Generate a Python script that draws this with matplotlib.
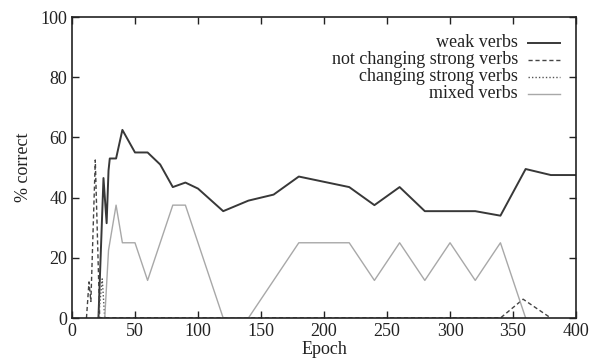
import matplotlib.pyplot as plt
from matplotlib.ticker import MultipleLocator

plt.rcParams['font.family'] = ['Liberation Serif', 'DejaVu Serif']

# data
weak_x = [21, 25, 27.5, 29, 30, 35, 40, 50, 60, 70, 80, 90, 100, 120, 140, 160, 180,
          220, 240, 260, 280, 320, 340, 360, 380, 400]
weak_y = [0, 46.5, 31.5, 49, 53, 53, 62.5, 55, 55, 51, 43.5, 45, 43, 35.5, 39, 41, 47,
          43.5, 37.5, 43.5, 35.5, 35.5, 34, 49.5, 47.5, 47.5]

notchg_x = [11.5, 13.5, 15, 18.5, 22, 340, 358, 380]
notchg_y = [0, 12, 5.5, 52.5, 0, 0, 6.25, 0]

chg_x = [21, 24, 26]
chg_y = [0, 13, 0]

mixed_x = [26, 29, 35, 40, 50, 60, 80, 90, 120, 140, 180, 220, 240, 260, 280, 300,
           320, 340, 360]
mixed_y = [0, 22.5, 37.5, 25, 25, 12.5, 37.5, 37.5, 0, 0, 25, 25, 12.5, 25, 12.5, 25,
           12.5, 25, 0]

labels = ['weak verbs', 'not changing strong verbs', 'changing strong verbs', 'mixed verbs']
styles = [dict(color='#383838', lw=1.4, ls='-'),
          dict(color='#444444', lw=1.0, ls=(0, (3, 2))),
          dict(color='#555555', lw=1.0, ls=(0, (1, 1.5))),
          dict(color='#a8a8a8', lw=1.0, ls='-')]

fig = plt.figure(figsize=(5.89, 3.62), dpi=100)
ax = fig.add_axes([0.1222, 0.1215, 0.8558, 0.8315])

series = [(weak_x, weak_y), (notchg_x, notchg_y), (chg_x, chg_y), (mixed_x, mixed_y)]
for (xs, ys), st in zip(series, styles):
    ax.plot(xs, ys, **st)

ax.set_xlim(0, 400)
ax.set_ylim(0, 100)
ax.xaxis.set_major_locator(MultipleLocator(50))
ax.yaxis.set_major_locator(MultipleLocator(20))
ax.tick_params(direction='in', length=5, width=1, top=True, right=True,
               labelsize=13, colors='#222222')
for s in ax.spines.values():
    s.set_linewidth(1.2)
    s.set_color('#222222')

ax.set_xlabel('Epoch', fontsize=13, labelpad=1, color='#222222')
ax.set_ylabel('% correct', fontsize=13, labelpad=6, color='#222222')

# legend: right-aligned text with line sample on the right
ly = 0.914
for lab, st in zip(labels, styles):
    ax.text(0.885, ly, lab, transform=ax.transAxes, ha='right', va='center',
            fontsize=13, color='#222222')
    ax.plot([0.905, 0.968], [ly, ly], transform=ax.transAxes, **st)
    ly -= 0.0565

fig.savefig('out.png', dpi=100)
